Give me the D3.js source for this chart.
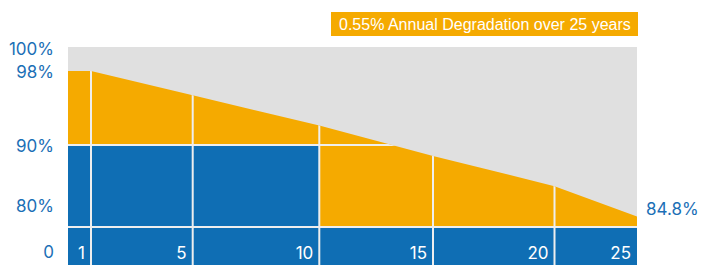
<!DOCTYPE html>
<html><head><meta charset="utf-8">
<script src="https://cdn.jsdelivr.net/npm/d3@7/dist/d3.min.js"></script>
<style>html,body{margin:0;padding:0;background:#fff;}svg{display:block;}</style>
</head><body>
<svg id="c" width="704" height="265"></svg>
<script>
// ---- data ----
const degYears = [0, 1, 5, 10, 15, 20, 25];
const degValues = [98, 98, 95.8, 93.05, 90.3, 87.55, 84.8];
const warrantyYears = [0, 10, 25];
const warrantyValues = [90, 80, 80];
const yearTicks = [1, 5, 10, 15, 20, 25];
const yTickValues = [100, 98, 90, 80, 0];
const yTickLabels = ["100%", "98%", "90%", "80%", "0"];
const gridValues = [90, 80];
const legendText = "0.55% Annual Degradation over 25 years";
const endLabel = "84.8%";

// ---- style ----
const C_GREY = "#e0e0e0", C_ORANGE = "#f5aa00", C_BLUE = "#0f6eb4", C_TEXT = "#1b6fb6", C_LINE = "#eeeeee";
const FONT = "Inter, 'Noto Sans', sans-serif";

const svg = d3.select("#c");

// stylised (piecewise) scales as in the original graphic
const x = d3.scaleLinear().domain([0, 1, 5, 10, 15, 20, 25]).range([68, 91, 192.7, 319.3, 433, 554.5, 637]);
const y = d3.scaleLinear().domain([0, 80, 90, 100]).range([265, 227, 145, 47]);
const yDeg = d3.scaleLinear().domain([84.8, 98]).range([216.5, 71]);
const yTick = d3.scaleLinear().domain([0, 80, 90, 98, 100]).range([252, 206, 146, 72, 49]);

const degData = degYears.map((d, i) => ({x: d, v: degValues[i]}));
const warData = warrantyYears.map((d, i) => ({x: d, v: warrantyValues[i]}));

// background
svg.append("rect").attr("x", x(0)).attr("y", y(100)).attr("width", x(25) - x(0)).attr("height", y(0) - y(100)).attr("fill", C_GREY);

const degArea = d3.area().x(d => x(d.x)).y0(y(0)).y1(d => yDeg(d.v));
const warArea = d3.area().x(d => x(d.x)).y0(y(0)).y1(d => y(d.v)).curve(d3.curveStepAfter);

svg.append("defs").append("clipPath").attr("id", "clipA").append("path").attr("d", degArea(degData));

svg.append("path").attr("d", degArea(degData)).attr("fill", C_ORANGE);
svg.append("path").attr("d", warArea(warData)).attr("fill", C_BLUE);

// grid lines (clipped to the coloured area)
const g = svg.append("g").attr("clip-path", "url(#clipA)");
g.selectAll("line.h").data(gridValues).join("line")
  .attr("x1", x(0)).attr("x2", x(25)).attr("y1", d => y(d)).attr("y2", d => y(d))
  .attr("stroke", C_LINE).attr("stroke-width", 2);
g.selectAll("line.v").data(yearTicks.filter(d => d < 25)).join("line")
  .attr("x1", d => x(d)).attr("x2", d => x(d)).attr("y1", y(0)).attr("y2", y(100))
  .attr("stroke", C_LINE).attr("stroke-width", 2);

// year labels
svg.selectAll("text.yr").data(yearTicks).join("text")
  .attr("x", d => x(d) - 6).attr("y", 259).attr("text-anchor", "end")
  .attr("fill", "#fff").attr("font-family", FONT).attr("font-size", 17).text(d => d);

// y axis labels
const ax = svg.append("g").attr("transform", "translate(54,0)")
  .call(d3.axisLeft(yTick).tickValues(yTickValues).tickSize(0).tickPadding(0)
    .tickFormat((d, i) => yTickLabels[i]));
ax.select(".domain").remove();
ax.selectAll("text").attr("fill", C_TEXT).attr("font-family", FONT).attr("font-size", 17);

// end label
svg.append("text").attr("x", x(25) + 9).attr("y", yDeg(84.8) - 7).attr("dy", "0.35em")
  .attr("fill", C_TEXT).attr("font-family", FONT).attr("font-size", 17).text(endLabel);

// legend box
svg.append("rect").attr("x", 331).attr("y", 12).attr("width", 307).attr("height", 24).attr("fill", C_ORANGE);
svg.append("text").attr("x", 339).attr("y", 29.5).attr("fill", "#fff")
  .attr("font-family", "'Liberation Sans', Arial, sans-serif").attr("font-size", 16).text(legendText);
</script>
</body></html>
